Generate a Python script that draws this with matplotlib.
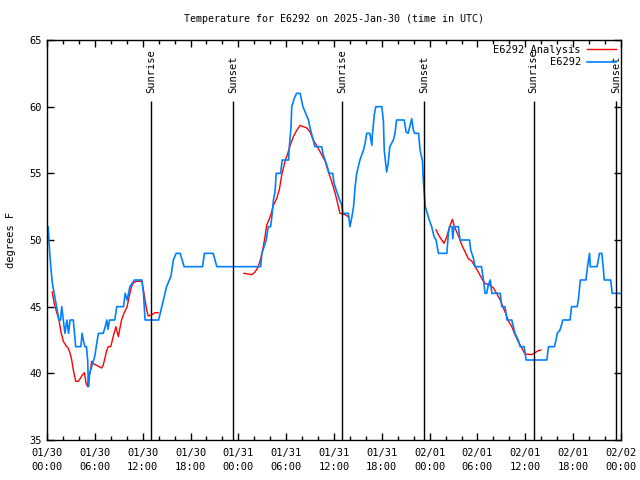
import matplotlib
matplotlib.use('Agg')
import matplotlib.pyplot as plt
import numpy as np

# hours since 01/30 00:00 UTC
obs_hours = [0.0, 0.15, 0.34, 0.5, 0.66, 0.9, 1.1, 1.35, 1.5, 1.7, 1.85, 2.05, 2.25, 2.5, 2.7, 2.9,
             3.3, 3.45, 3.6, 4.25, 4.4, 4.55, 4.75, 4.95, 5.1, 5.2, 5.35, 5.6, 6.0, 6.25, 6.45, 7.05,
             7.3, 7.5, 7.65, 7.85, 8.5, 8.75, 9.6, 9.8, 10.05, 10.4, 10.95, 11.9, 12.1, 12.3, 13.55,
             14.0, 14.4, 15.0, 15.55, 15.85, 16.2, 16.7, 17.0, 17.2, 19.5, 19.75, 20.85, 21.3, 26.8,
             26.95, 27.5, 27.75, 28.05, 28.25, 28.4, 28.6, 28.75, 29.3, 29.5, 30.3, 30.4, 30.6, 30.7,
             31.0, 31.3, 31.75, 32.1, 32.8, 33.0, 33.35, 33.6, 34.45, 34.65, 35.1, 35.4, 35.85, 36.0,
             36.7, 37.0, 37.1, 37.8, 38.0, 38.25, 38.45, 38.65, 38.85, 39.25, 39.7, 39.9, 40.1, 40.5,
             40.75, 40.8, 41.05, 41.25, 42.0, 42.2, 42.3, 42.6, 42.8, 43.0, 43.45, 43.65, 43.85, 44.8,
             45.05, 45.3, 45.55, 45.75, 45.95, 46.1, 46.6, 46.8, 47.1, 47.2, 47.45, 47.7, 47.95, 48.25,
             48.55, 48.8, 49.1, 50.15, 50.35, 50.5, 50.8, 50.9, 51.05, 51.6, 51.8, 53.0, 53.15, 53.5,
             53.7, 54.5, 54.75, 54.95, 55.15, 55.35, 55.6, 55.8, 56.85, 57.05, 57.45, 57.7, 58.3, 58.5,
             58.7, 59.1, 59.35, 59.85, 60.1, 62.7, 62.9, 63.65, 63.85, 64.0, 64.35, 64.6, 64.7, 65.6,
             65.8, 66.5, 66.65, 66.9, 67.6, 67.8, 68.05, 68.15, 69.0, 69.3, 69.6, 69.8, 69.9, 70.7,
             70.9, 72.0]
obs_temp = [51, 51, 49, 47.8, 46.8, 46, 45.3, 44.5, 44, 44, 45, 44, 43, 44, 43, 44,
            44, 43, 42, 42, 43, 42.5, 42, 42, 41, 39, 40, 40.5, 41.3, 42.3, 43, 43,
            43.5, 44, 43.3, 44, 44, 45, 45, 46, 45.5, 46.5, 47, 47, 46, 44, 44,
            44, 45, 46.5, 47.3, 48.5, 49, 49, 48.4, 48, 48, 49, 49, 48, 48,
            49, 50, 51, 51, 52, 53, 53.6, 55, 55, 56, 56, 57, 58.4, 60,
            60.6, 61, 61, 60, 59, 58.4, 57.6, 57, 57, 56.4, 55.6, 55, 55, 54.25,
            53, 52.6, 52, 52, 51, 51.75, 52.5, 54, 55, 56, 56.75, 57.25, 58, 58,
            57.1, 57.75, 59.4, 60, 60, 58.9, 56.75, 55.1, 55.75, 57, 57.5, 58, 59, 59,
            58.1, 58, 58.6, 59.1, 58.25, 58, 58, 56.75, 55.9, 54.5, 52.5, 52, 51.5, 51,
            50.25, 50, 49, 49, 50.5, 51, 51, 50.1, 51, 51, 50, 50, 49.25, 48.6,
            48, 48, 47, 46, 46, 46.6, 47, 46, 46, 45, 45, 44, 44, 43.5,
            43, 42.5, 42, 42, 41, 41, 42, 42, 42.5, 43, 43.25, 43.75, 44, 44,
            45, 45, 45.5, 47, 47, 48, 49, 48, 48, 49, 49, 47.75, 47, 47,
            46, 46]

# analysis runs (three separate pieces)
ana1_hours = [0.66, 0.9, 1.2, 1.5, 1.75, 2.05, 2.35, 2.65, 2.9, 3.1, 3.3, 3.6, 3.95, 4.15, 4.45,
              4.7, 4.9, 5.1, 5.2, 5.4, 5.6, 5.75, 6.85, 7.05, 7.5, 7.7, 8.0, 8.3, 8.65, 8.95,
              9.15, 9.35, 9.65, 10.05, 10.3, 10.6, 10.8, 11.15, 11.9, 12.1, 12.3, 12.5, 12.7,
              13.15, 13.55, 13.95]
ana1_temp = [46.1, 45.25, 44.6, 44, 43.1, 42.4, 42.1, 41.9, 41.5, 41, 40.25, 39.4, 39.4, 39.6, 39.9,
             40.05, 39.25, 39.0, 39.8, 40.0, 40.9, 40.75, 40.4, 40.6, 41.75, 42, 42, 42.75, 43.5, 42.75,
             43.4, 44, 44.5, 45, 45.75, 46.5, 46.75, 46.9, 46.9, 46.25, 45.5, 44.75, 44.3,
             44.4, 44.55, 44.55]
ana2_hours = [24.7, 25.7, 26.1, 26.5, 26.8, 27.05, 27.35, 27.55, 28.0, 28.4, 28.8, 29.15, 29.45,
              29.85, 30.15, 30.5, 30.9, 31.35, 31.75, 32.15, 32.6, 33.0, 33.4, 33.9, 34.45, 34.9,
              35.3, 35.7, 36.15, 36.55, 36.75, 37.4, 37.9]
ana2_temp = [47.5, 47.4, 47.6, 48, 48.6, 49.25, 50.25, 51.1, 51.75, 52.6, 53.1, 53.8, 54.9,
             55.9, 56.4, 57.1, 57.75, 58.25, 58.6, 58.5, 58.4, 58.1, 57.5, 57, 56.4, 55.9,
             55.1, 54.4, 53.5, 52.5, 52, 51.9, 51.7]
ana3_hours = [48.8, 49.1, 49.4, 49.8, 50.15, 50.5, 50.85, 51.05, 51.4, 51.75, 52.05, 52.45, 52.85,
              53.3, 53.7, 54.1, 54.55, 54.95, 55.6, 56.0, 56.4, 56.85, 57.25, 57.6, 57.9, 58.3,
              58.7, 59.1, 59.55, 59.95, 60.8, 61.2, 61.65, 61.95]
ana3_temp = [50.75, 50.4, 50.1, 49.75, 50.25, 51, 51.55, 51.1, 50.6, 50.1, 49.6, 49.1, 48.6,
             48.4, 48, 47.6, 47.1, 46.75, 46.6, 46.4, 46, 45.5, 44.9, 44.4, 43.9, 43.5,
             42.9, 42.4, 41.9, 41.45, 41.4, 41.55, 41.7, 41.75]

sun_hours = [13.05, 23.3, 37.05, 47.3, 61.05, 71.4]
sun_labels = ['Sunrise', 'Sunset', 'Sunrise', 'Sunset', 'Sunrise', 'Sunset']

tick_hours = list(range(0, 73, 6))
tick_labels = ['01/30\n00:00', '01/30\n06:00', '01/30\n12:00', '01/30\n18:00',
               '01/31\n00:00', '01/31\n06:00', '01/31\n12:00', '01/31\n18:00',
               '02/01\n00:00', '02/01\n06:00', '02/01\n12:00', '02/01\n18:00',
               '02/02\n00:00']

plt.rcParams['font.family'] = ['DejaVu Sans Mono']
plt.rcParams['font.size'] = 7

fig = plt.figure(figsize=(6.4, 4.8), dpi=100)
ax = fig.add_axes([47 / 640, 40 / 480, 574 / 640, 400 / 480])

red = '#ff0000'
blue = '#0080ff'

ax.plot(ana1_hours, ana1_temp, color=red, lw=1.0, label='E6292 Analysis')
ax.plot(ana2_hours, ana2_temp, color=red, lw=1.0)
ax.plot(ana3_hours, ana3_temp, color=red, lw=1.0)
ax.plot(obs_hours, obs_temp, color=blue, lw=1.2, label='E6292')

for h, lab in zip(sun_hours, sun_labels):
    ax.vlines(h, 35, 60.45, color='black', lw=1.0)
    ax.text(h, 61.0, lab, rotation=90, ha='center', va='bottom', fontsize=7.5)

ax.set_xlim(0, 72)
ax.set_ylim(35, 65)
ax.set_xticks(tick_hours)
ax.set_xticklabels(tick_labels, linespacing=1.5)
ax.set_xticks(np.arange(0, 73, 2), minor=True)
ax.set_yticks(range(35, 66, 5))
ax.tick_params(which='both', direction='in', top=True, right=True, labelsize=7.5)
ax.tick_params(which='major', length=5, width=1)
ax.tick_params(which='minor', length=3, width=1)
ax.tick_params(axis='x', pad=6)
for s in ax.spines.values():
    s.set_linewidth(1.0)

ax.set_ylabel('degrees F', fontsize=7.5, labelpad=10)
ax.set_title('Temperature for E6292 on 2025-Jan-30 (time in UTC)', fontsize=7.2, pad=13)

ax.legend(loc='upper right', frameon=False, markerfirst=False, fontsize=7.5,
          handlelength=2.8, handletextpad=0.6, labelspacing=0.25,
          borderaxespad=0.15, borderpad=0.3)

fig.savefig('out.png', dpi=100)
